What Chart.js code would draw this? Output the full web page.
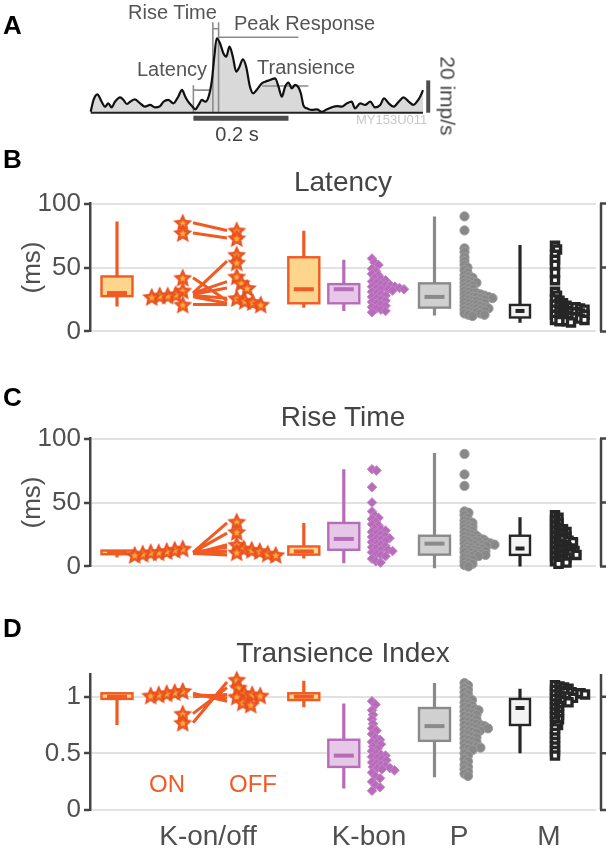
<!DOCTYPE html>
<html><head><meta charset="utf-8">
<script src="https://cdn.jsdelivr.net/npm/chart.js@4.4.1/dist/chart.umd.min.js"></script>
<style>
body{margin:0;background:#fff;}
#wrap{position:relative;width:606px;height:853px;overflow:hidden;background:#fff;font-family:'Liberation Sans',Arial,sans-serif;}
canvas{position:absolute;left:0;}
.t{position:absolute;white-space:nowrap;line-height:1;}
.L{font-weight:bold;font-size:26px;color:#000;}
.an{font-size:20px;color:#555;}
.ti{font-size:28px;color:#444;transform:translateX(-50%);}
.oo{font-size:24px;color:#f15a22;transform:translateX(-50%);}
</style></head><body><div id="wrap">
<canvas id="cA" width="606" height="150" style="top:0;width:606px;height:150px"></canvas>
<canvas id="cB" width="606" height="165" style="top:185px;width:606px;height:165px"></canvas>
<canvas id="cC" width="606" height="165" style="top:420px;width:606px;height:165px"></canvas>
<canvas id="cD" width="606" height="198" style="top:655px;width:606px;height:198px"></canvas>

<div class="t L" style="left:3px;top:11.6px">A</div>
<div class="t L" style="left:3px;top:145.6px">B</div>
<div class="t L" style="left:3px;top:383.6px">C</div>
<div class="t L" style="left:3px;top:614.6px">D</div>

<div class="t an" style="left:128px;top:2.4px">Rise Time</div>
<div class="t an" style="left:234px;top:13.4px">Peak Response</div>
<div class="t an" style="left:137px;top:59.1px">Latency</div>
<div class="t an" style="left:257px;top:57.4px">Transience</div>
<div class="t an" style="left:237px;top:124.4px;color:#444;transform:translateX(-50%)">0.2 s</div>
<div class="t" style="left:356px;top:113.3px;font-size:13px;color:#c8c8c8">MY153U011</div>
<div class="t" style="left:448px;top:96px;font-size:21px;color:#444;transform:translate(-50%,-50%) rotate(90deg)">20 imp/s</div>

<div class="t ti" style="left:343px;top:168px">Latency</div>
<div class="t ti" style="left:343px;top:403px">Rise Time</div>
<div class="t ti" style="left:343px;top:639px">Transience Index</div>
<div class="t oo" style="left:167px;top:771.9px">ON</div>
<div class="t oo" style="left:253px;top:771.9px">OFF</div>
</div>
<script>
// ---------------- Panel A: example PSTH ----------------
const traceTime = [-216,-210,-202,-193,-186,-179,-172,-165,-154,-147,-140,-133,-123,-112,-102,-91,-81,-70,-63,-53,-42,-32,-24,-17,-11,-3,4,11,18,25,32,39,44,49,56,63,69,76,83,90,97,104,111,119,126,133,144,151,161,172,179,186,193,200,207,214,221,226,232,239,249,260,270,281,291,302,312,323,333,340,351,361,372,382,393,401,411,421,432,442,453,463,470,477,483];
const traceRate = [0.6,7.9,11.4,6.8,3.7,5.8,3.3,6.8,9.5,7.9,5.4,6.8,8.3,5.8,3.7,4.8,3.3,4.1,6.8,7.9,5.8,9.9,14.1,9.9,6.8,4.1,2.1,4.8,7.9,6.8,9.9,20.2,34.7,46.1,43,36.8,34.7,40.9,34.7,25.4,28.5,33.1,28.5,16.1,12,14.1,18.2,19.2,20.2,21.3,16.1,9.9,16.1,18.6,15.1,17.2,15.7,12,4.1,2.7,1.7,2.1,0.6,2.1,3.3,4.1,3.7,5.8,6.8,2.7,5.8,4.8,6.8,3.3,4.8,8.9,5.8,3.7,6.8,9.5,6.8,4.8,6.8,9.9,14];
const stimWindow = [0, 200];          // ms (0.2 s bar)
const scaleBarRate = [0, 20];         // imp/s
const latencySpan = [0, 35];  const latencyRate = 14;
const riseSpan = [41, 53];    const riseTop = 56; const riseBar = 52;
const peakSpan = [53, 221];   const peakRate = 46.7;
const transSpan = [145, 242]; const transRate = 16.5;

// ---------------- Panel B: Latency (ms) ----------------
const latON = [85,77,42,32,29,28,28,27,21];
const latOFF = [79,73,60,54,43,38,34,26,24,23,21];
const latPairON = [85,77,30,30,29,28,42,27,21];
const latPairOFF = [79,73,55,39,34,26,24,22,21];
const latKbon = [57,54,52,49,47,45,44,42,41,40,39,38,37,36,36,35,35,34,34,33,33,33,32,31,30,29,28,27,26,25,24,23,22,21,20,19,18,17,16,15];
const latP = [90,79,65,62,58,55,52,50,48,46,44,43,42,41,40,39,38,38,37,36,35,34,33,32,31,30,30,29,29,28,28,27,27,27,26,26,26,25,25,24,24,23,23,22,22,21,21,20,20,19,19,18,18,18,17,17,16,16,15,15,14,14,13,13,12];
const latM = [67,64,60,56,52,46,40,31,28,25,24,22,21,20,20,19,19,18,18,17,17,16,16,15,15,14,14,13,13,12,12,11,11,10,10,9,9,8,8,7];
const latBoxKon = [19.5,27.6,30,43,86];
const latBoxKoff = [18.6,22,33,58,78.7];
const latBoxKbon = [16,22,33,37,56];
const latBoxP = [12.4,18.6,27,37.6,90];
const latBoxM = [6.7,10.9,16,20.7,67.6];

// ---------------- Panel C: Rise time (ms) ----------------
const riseON = [14,13,12,11,11,10,9];
const riseOFF = [35,27,17,14,13,12,11,10,9];
const risePairON = [11,11,10,11,10,10,10];
const risePairOFF = [34,26,17,15,12,11,9];
const riseKbon = [76,75,62,50,43,40,38,37,35,33,32,30,29,28,27,26,25,24,23,22,22,21,20,19,18,17,16,15,14,13,13,12,11,10,9,8,6,4,3];
const riseP = [88,72,63,43,42,40,38,36,35,34,33,32,31,30,29,28,27,26,25,24,24,23,22,22,21,21,20,20,19,19,18,18,18,17,17,17,16,16,15,15,14,14,13,13,12,12,11,11,10,10,9,9,8,8,7,6,5,4,3,2,1,0];
const riseM = [40,38,36,34,32,30,29,28,27,26,25,24,23,22,21,20,20,19,18,17,16,15,14,14,13,12,12,11,10,10,9,9,8,7,6,5,4,3,2];
const riseBoxKon = [7,9.5,11,12.4,12.4];
const riseBoxKoff = [6.2,9.2,11.7,15.6,34];
const riseBoxKbon = [2.5,13,21.5,34,76];
const riseBoxP = [-1.5,9.2,17.8,24,88.7];
const riseBoxM = [0,9,14,24,38.5];

// ---------------- Panel D: Transience index ----------------
const transON = [1.05,1.04,1.03,1.02,1.01,0.85,0.77];
const transOFF = [1.15,1.08,1.03,1.02,1.01,1.0,0.95,0.93];
const transPairON = [0.77,0.85,1.03,1.02,1.0,1.01];
const transPairOFF = [1.13,1.08,0.96,1.0,1.02,0.99];
const transKbon = [0.96,0.93,0.88,0.84,0.8,0.76,0.72,0.7,0.67,0.64,0.62,0.6,0.59,0.58,0.56,0.54,0.52,0.5,0.49,0.48,0.47,0.46,0.45,0.44,0.42,0.41,0.4,0.39,0.38,0.37,0.37,0.36,0.35,0.33,0.3,0.28,0.25,0.22,0.2,0.17];
const transP = [1.12,1.1,1.08,1.06,1.04,1.02,1.0,0.98,0.97,0.95,0.94,0.92,0.91,0.9,0.89,0.88,0.87,0.86,0.85,0.84,0.83,0.82,0.81,0.8,0.79,0.78,0.77,0.76,0.75,0.75,0.74,0.74,0.73,0.72,0.72,0.71,0.7,0.7,0.69,0.68,0.67,0.66,0.65,0.64,0.63,0.62,0.61,0.6,0.59,0.58,0.57,0.56,0.55,0.55,0.54,0.53,0.5,0.48,0.45,0.43,0.4,0.38,0.36,0.34,0.32,0.3];
const transM = [1.1,1.09,1.08,1.07,1.06,1.05,1.04,1.04,1.03,1.03,1.02,1.02,1.01,1.0,1.0,0.99,0.98,0.97,0.96,0.95,0.94,0.92,0.9,0.88,0.86,0.84,0.82,0.8,0.78,0.75,0.72,0.68,0.64,0.6,0.56,0.52,0.48];
const transBoxKon = [0.75,0.98,1.0,1.03,1.04];
const transBoxKoff = [0.906,0.97,1.0,1.03,1.14];
const transBoxKbon = [0.19,0.38,0.48,0.62,0.94];
const transBoxP = [0.29,0.61,0.74,0.9,1.12];
const transBoxM = [0.5,0.75,0.9,0.98,1.07];

// ---------------- category labels ----------------
const catLabels = ['K-on/off','K-bon','P','M'];

// ---------------- layout (x axis in px offsets from the left axis) ----------------
const POS = {konBox:27, onBase:92.7, onLineEnd:103, offLineStart:137, offBase:146.7, koffBox:213.8,
             kbonBox:253.8, kbonBase:282, pBox:344.5, pBase:374.5, mBox:430, mBase:465};
const catCenters = [118, 279, 369, 459];
const XMAX = 506;

const ORANGE='#f15a22', ORANGE_FILL='#fdd58c', PURPLE='#b66cb8', PURPLE_FILL='#e6c7e7',
      GRAY='#8a8a8a', GRAY_FILL='#d0d0d0', DARK='#262626', M_FILL='#f3f3f3', TXT='#505050';

Chart.defaults.font.family = "'Liberation Sans', Arial, sans-serif";
Chart.defaults.animation = false;

function starCanvas(R, r, fill, inner, stroke) {
  const s = Math.ceil(R*2+4), c = document.createElement('canvas'); c.width = c.height = s;
  const g = c.getContext('2d');
  const draw = (rad, col, st) => {
    g.beginPath();
    for (let k=0;k<10;k++){ const a=-Math.PI/2+k*Math.PI/5; const rr=k%2?rad*0.47:rad; g.lineTo(s/2+rr*Math.cos(a), s/2+0.8+rr*Math.sin(a)); }
    g.closePath(); g.fillStyle=col; g.fill(); if (st){ g.strokeStyle=st; g.lineWidth=1.2; g.stroke(); }
  };
  draw(R, fill, stroke); draw(r, inner);
  return c;
}
const STAR = starCanvas(8.6, 3.6, ORANGE, '#fbb03b', '#e24c1c');

// one-sided beeswarm: offsets computed from the values
function swarm(values, base, dir, diam, ppu) {
  const order = values.map((v,i)=>i).sort((a,b)=>values[b]-values[a]);
  const placed = [], out = new Array(values.length);
  for (const i of order) {
    const y = values[i]*ppu; let k = 0;
    while (true) {
      const x = k*0.5; let ok = true;
      for (const p of placed) { const dx=p.x-x, dy=p.y-y; if (dx*dx+dy*dy < diam*diam) { ok=false; break; } }
      if (ok) { placed.push({x,y}); out[i] = {x: base+dir*x, y: values[i]}; break; }
      k++;
    }
  }
  return out;
}

const boxPlugin = {
  id: 'boxes',
  beforeDatasetsDraw(chart, args, opts) {
    const {ctx, scales:{x, y}} = chart;
    (opts.items||[]).forEach(b => {
      const [mn,q1,md,q3,mx] = b.stats;
      const cx = x.getPixelForValue(b.x);
      const hw = (x.getPixelForValue(b.x + b.w/2) - cx);
      ctx.save();
      ctx.strokeStyle = b.stroke; ctx.lineCap = 'butt';
      ctx.lineWidth = 3.2;
      ctx.beginPath();
      ctx.moveTo(cx, y.getPixelForValue(mn)); ctx.lineTo(cx, y.getPixelForValue(q1));
      ctx.moveTo(cx, y.getPixelForValue(q3)); ctx.lineTo(cx, y.getPixelForValue(mx));
      ctx.stroke();
      const yt = y.getPixelForValue(q3), yb = y.getPixelForValue(q1);
      ctx.fillStyle = b.fill; ctx.fillRect(cx-hw, yt, 2*hw, yb-yt);
      ctx.lineWidth = 2.4; ctx.strokeRect(cx-hw, yt, 2*hw, yb-yt);
      const ym = y.getPixelForValue(md);
      ctx.lineWidth = 4; ctx.beginPath(); ctx.moveTo(cx-hw+5.5, ym); ctx.lineTo(cx+hw-5.5, ym); ctx.stroke();
      ctx.restore();
    });
  }
};
const bracketPlugin = {
  id: 'bracket',
  afterDraw(chart) {
    const {ctx, chartArea} = chart; const y = chart.scales.y;
    const xr = chartArea.right + 5;
    ctx.save(); ctx.strokeStyle = '#444'; ctx.lineWidth = 2.5;
    ctx.beginPath(); ctx.moveTo(xr, y.top); ctx.lineTo(xr, y.bottom);
    y.ticks.forEach(t => { const py = y.getPixelForValue(t.value); ctx.moveTo(xr-1, py); ctx.lineTo(xr+7, py); });
    ctx.stroke(); ctx.restore();
  }
};

// ---------------- Panel A chart ----------------
(function(){
  const pts = traceTime.map((t,i)=>({x:t, y:traceRate[i]}));
  const t0 = traceTime[0], t1 = traceTime[traceTime.length-1];
  const ann = [
    {x:latencySpan[0],y:0},{x:latencySpan[0],y:latencyRate+3},{x:latencySpan[0],y:null},
    {x:latencySpan[0],y:latencyRate},{x:latencySpan[1],y:latencyRate},{x:latencySpan[1],y:null},
    {x:riseSpan[0],y:0},{x:riseSpan[0],y:riseTop},{x:riseSpan[0],y:null},
    {x:riseSpan[1],y:0},{x:riseSpan[1],y:riseTop},{x:riseSpan[1],y:null},
    {x:riseSpan[0],y:riseBar},{x:riseSpan[1],y:riseBar},{x:riseSpan[1],y:null},
    {x:peakSpan[0],y:peakRate},{x:peakSpan[1],y:peakRate},{x:peakSpan[1],y:null},
    {x:transSpan[0],y:transRate},{x:transSpan[1],y:transRate}
  ];
  const scaleBarT = t1 + 11;
  new Chart(document.getElementById('cA'), {
    type:'line',
    data:{datasets:[
      {data:pts, borderColor:'#111', borderWidth:2.2, pointRadius:0, cubicInterpolationMode:'monotone',
       fill:'origin', backgroundColor:'#d9d9d9', order:0, clip:false},
      {data:[{x:t0,y:0},{x:t1,y:0}], borderColor:'#222', borderWidth:2, pointRadius:0, order:1, clip:false},
      {data:ann, borderColor:'#8c8c8c', borderWidth:1.6, pointRadius:0, order:2, clip:false, spanGaps:false},
      {data:[{x:stimWindow[0],y:-3.5},{x:stimWindow[1],y:-3.5}], borderColor:'#4d4d4d', borderWidth:5, pointRadius:0, borderCapStyle:'butt', order:3, clip:false},
      {data:[{x:scaleBarT,y:scaleBarRate[0]},{x:scaleBarT,y:scaleBarRate[1]}], borderColor:'#4d4d4d', borderWidth:4, pointRadius:0, borderCapStyle:'butt', order:3, clip:false}
    ]},
    options:{responsive:false, events:[], devicePixelRatio:1,
      layout:{padding:{left:90.7,right:183,top:15.8,bottom:37.3}},
      plugins:{legend:{display:false}, tooltip:{enabled:false}, filler:{drawTime:'beforeDatasetsDraw'}},
      scales:{x:{type:'linear',min:t0,max:t1,display:false}, y:{min:0,max:60,display:false}}}
  });
})();

// ---------------- Panels B-D ----------------
function panel(id, o) {
  const ppu = o.areaH / o.ymax;
  const pairs = [];
  o.pairOn.forEach((v,i)=>{ pairs.push({x:POS.onLineEnd,y:v},{x:POS.offLineStart,y:o.pairOff[i]},{x:POS.offLineStart,y:null}); });
  const ds = [
    {type:'line', data:pairs, borderColor:ORANGE, borderWidth:3, pointRadius:0, order:10, clip:false, spanGaps:false},
    {data:swarm(o.on, POS.onBase, -1, 8, ppu), pointStyle:STAR, pointRadius:8, order:1, clip:false},
    {data:swarm(o.off, POS.offBase, 1, 8, ppu), pointStyle:STAR, pointRadius:8, order:1, clip:false},
    {data:swarm(o.kbon, POS.kbonBase, 1, 4.6, ppu), pointStyle:'rectRot', pointRadius:4.8, backgroundColor:'#b86bba', borderColor:'#c585c7', borderWidth:1, order:2, clip:false},
    {data:swarm(o.p, POS.pBase, 1, 4.0, ppu), pointStyle:'circle', pointRadius:4.6, backgroundColor:'#888888', borderColor:'#9c9c9c', borderWidth:1, order:2, clip:false},
    {data:swarm(o.m, POS.mBase, 1, 4.4, ppu), pointStyle:'rect', pointRadius:5, backgroundColor:'#fff', borderColor:DARK, borderWidth:3.4, order:2, clip:false}
  ];
  const boxes = [
    {x:POS.konBox, w:31, stats:o.bKon, stroke:ORANGE, fill:ORANGE_FILL},
    {x:POS.koffBox, w:31, stats:o.bKoff, stroke:ORANGE, fill:ORANGE_FILL},
    {x:POS.kbonBox, w:31, stats:o.bKbon, stroke:PURPLE, fill:PURPLE_FILL},
    {x:POS.pBox, w:31, stats:o.bP, stroke:GRAY, fill:GRAY_FILL},
    {x:POS.mBox, w:20, stats:o.bM, stroke:DARK, fill:M_FILL}
  ];
  const xScale = o.showX ? {
      type:'linear', min:0, max:XMAX, display:true,
      afterBuildTicks: s => { s.ticks = catCenters.map(v=>({value:v})); },
      ticks:{callback:(v,i)=>catLabels[i], autoSkip:false, maxRotation:0, minRotation:0, font:{size:28}, color:TXT, padding:10},
      grid:{display:false, drawTicks:false}, border:{display:false},
      afterFit: s => { s.height = 40; }
    } : {type:'linear', min:0, max:XMAX, display:false};
  new Chart(document.getElementById(id), {
    type:'scatter',
    data:{datasets:ds},
    plugins:[boxPlugin, bracketPlugin],
    options:{responsive:false, events:[], devicePixelRatio:1,
      layout:{padding:{left:0,right:10,top:o.padTop,bottom:o.padBottom}},
      plugins:{legend:{display:false}, tooltip:{enabled:false}, boxes:{items:boxes}},
      scales:{
        x:xScale,
        y:{min:0, max:o.ymax,
           ticks:{stepSize:o.step, includeBounds:false, font:{size:26}, color:TXT, padding:3, callback:v=>String(+v.toFixed(2))},
           grid:{color:'#e2e2e2', lineWidth:2, tickColor:'#444', tickWidth:2.5, tickLength:6},
           border:{display:true, color:'#444', width:2.5},
           title:{display:!!o.yTitle, text:o.yTitle||'', font:{size:26}, color:TXT, padding:{top:17,bottom:0}},
           afterFit: s => { s.width = 90; }}
      }}
  });
}

panel('cB', {ymax:100, step:50, yTitle:'(ms)', areaH:135, padTop:18, padBottom:12,
  on:latON, off:latOFF, pairOn:latPairON, pairOff:latPairOFF, kbon:latKbon, p:latP, m:latM,
  bKon:latBoxKon, bKoff:latBoxKoff, bKbon:latBoxKbon, bP:latBoxP, bM:latBoxM});
panel('cC', {ymax:100, step:50, yTitle:'(ms)', areaH:134.5, padTop:17.5, padBottom:13,
  on:riseON, off:riseOFF, pairOn:risePairON, pairOff:risePairOFF, kbon:riseKbon, p:riseP, m:riseM,
  bKon:riseBoxKon, bKoff:riseBoxKoff, bKbon:riseBoxKbon, bP:riseBoxP, bM:riseBoxM});
panel('cD', {ymax:1.2, step:0.5, yTitle:null, areaH:136, padTop:19, padBottom:3, showX:true,
  on:transON, off:transOFF, pairOn:transPairON, pairOff:transPairOFF, kbon:transKbon, p:transP, m:transM,
  bKon:transBoxKon, bKoff:transBoxKoff, bKbon:transBoxKbon, bP:transBoxP, bM:transBoxM});
</script>
</body></html>
